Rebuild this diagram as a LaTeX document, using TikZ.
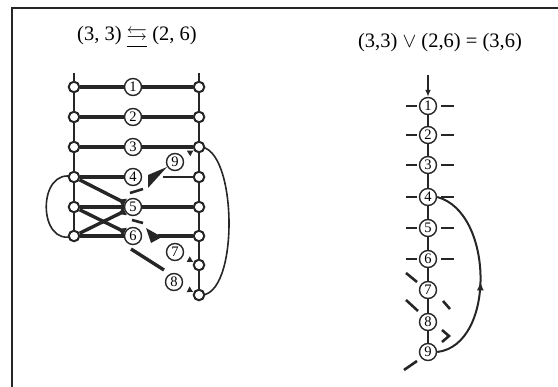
\documentclass[tikz,border=0pt]{standalone}
\usepackage{fontspec}
\usepackage{amssymb}
\setmainfont{Liberation Serif}
\usetikzlibrary{arrows.meta,decorations.markings}
\begin{document}
\begin{tikzpicture}[x=1pt,y=-1pt,
  ink/.style={draw=black!85},
  rail/.style={ink,line width=1.8pt},
  rung/.style={ink,line width=3.4pt},
  rnode/.style={circle,draw=black!85,fill=white,line width=2pt,minimum size=10.5pt,inner sep=0pt},
  cnum/.style={circle,draw=black!85,fill=white,line width=1.4pt,minimum size=17pt,inner sep=0pt,font=\fontsize{14.5}{14.5}\selectfont},
  wedge/.style={rung,-{Latex[reversed,length=8pt,width=10pt]}},
  tinyhead/.style={ink,line width=1pt,-{Latex[length=6pt,width=7pt]}},
  dashpiece/.style={ink,line width=2.6pt},
  title/.style={font=\fontsize{20.5}{20.5}\selectfont,inner sep=0pt}
]
\useasboundingbox (0,0) rectangle (558,387);
% frame
\draw[ink,line width=2.2pt] (12,387) -- (12,8) -- (558,8);

% titles
\node[title] (t1) at (137,37) {(3, 3) \underline{$\leftrightarrows$} (2, 6)};
\node[title] (t2) at (440,43) {(3,3) $\vee$ (2,6) = (3,6)};

% ---------------- left diagram ----------------
\coordinate (ltop) at (74,73);
\coordinate (rtop) at (199,73);
\foreach \i/\y in {1/87,2/117,3/147,4/177,5/207,6/236}{
  \coordinate (pl\i) at (74,\y);
  \coordinate (pr\i) at (199,\y);
}
\coordinate (pr7) at (199,265);
\coordinate (pr8) at (199,295);
\draw[rail] (ltop) -- (pl6);
\draw[rail] (rtop) -- (pr8);

% arcs behind nodes
\draw[ink,line width=1.6pt] (pl4) .. controls (37,166) and (37,248) .. (pl6);
\draw[ink,line width=1.6pt] (pr3) .. controls (238,145) and (240,300) .. (pr8);

\foreach \i in {1,...,6}{
  \node[rnode] (l\i) at (pl\i) {};
  \node[rnode] (r\i) at (pr\i) {};
}
\node[rnode] (r7) at (pr7) {};
\node[rnode] (r8) at (pr8) {};

\node[cnum] (c1) at (133,87) {1};
\node[cnum] (c2) at (133,117) {2};
\node[cnum] (c3) at (133,147) {3};
\node[cnum] (c4) at (133,177) {4};
\node[cnum] (c5) at (133,207) {5};
\node[cnum] (c6) at (133,236) {6};
\node[cnum] (c9) at (175,162) {9};
\node[cnum] (c7) at (175,252) {7};
\node[cnum] (c8) at (174,282) {8};

% rungs
\foreach \i in {1,2,3}{
  \draw[rung] (l\i) -- (c\i);
  \draw[rung] (c\i) -- (r\i);
}
\draw[rung] (l4) -- (c4);
\draw[rung] (l5) -- (c5);
\draw[rung] (c5) -- (r5);
\draw[rung] (l6) -- (c6);
% crossing diagonals
\draw[wedge] (l4) -- (c5);
\draw[wedge] (l6) -- (c5);
\draw[wedge] (l5) -- (c6);

% right row 4 bent edge
\coordinate (k4) at (163,177);
\draw[ink,line width=2pt] (r4) -- (k4);
\fill[black!85] (148,175) -- (148,188) -- (167,167) -- cycle;
\draw[dashpiece] (130,193) -- (143,189);

% right row 6 bent edge
\coordinate (k6) at (158,236);
\draw[rung] (r6) -- (k6);
\fill[black!85] (146,228) -- (151,243) -- (162,237) -- cycle;
\draw[dashpiece] (132,220) -- (143,223);

% 6 -> 8 stroke
\coordinate (s6a) at (131,249);
\coordinate (s6b) at (164,270);
\draw[rung] (s6a) -- (s6b);

% small heads into right rail
\draw[tinyhead,shorten <=11pt] (c9) -- (r3);
\draw[tinyhead,shorten <=9pt] (c7) -- (r7);
\draw[tinyhead,shorten <=9pt] (c8) -- (r8);

% ---------------- right diagram ----------------
\coordinate (ntop) at (428,75);
\foreach \i/\y in {1/106,2/135,3/165,4/197,5/228,6/259,7/290,8/322,9/352}{
  \node[cnum] (n\i) at (428,\y) {\i};
}
\draw[ink,line width=1.8pt,-{Latex[length=7pt,width=6pt]}] (ntop) -- (n1);
\foreach \a/\b in {1/2,2/3,3/4,4/5,5/6,6/7,7/8,8/9}{
  \draw[ink,line width=1.8pt] (n\a) -- (n\b);
}
\foreach \i in {1,...,6}{
  \draw[dashpiece] ([xshift=-22pt]n\i.center) -- ([xshift=-11pt]n\i.center);
  \draw[dashpiece] ([xshift=13pt]n\i.center) -- ([xshift=26pt]n\i.center);
}
\draw[dashpiece] (406,273) -- (417,282);
\draw[dashpiece] (443,301) -- (450,309);
\draw[dashpiece] (406,300) -- (418,311);
\draw[dashpiece] (442,330) -- (449,336) -- (442,342);
\draw[dashpiece] (404,370) -- (417,361);

\draw[ink,line width=2pt,
  decoration={markings,mark=at position 0.47 with {\arrow{Latex[length=9pt,width=7pt]}}},
  postaction={decorate}]
  (n9.east) .. controls (496,345) and (494,212) .. (n4.east);
\end{tikzpicture}
\end{document}
